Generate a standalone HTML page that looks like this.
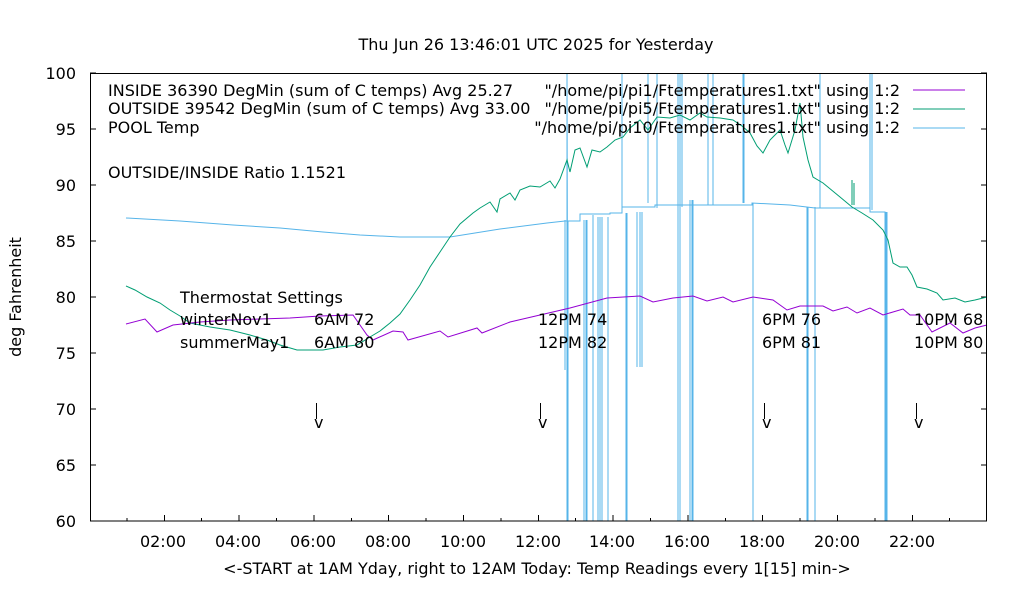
<!DOCTYPE html>
<html><head><meta charset="utf-8"><style>
html,body{margin:0;padding:0;background:#fff}
svg text{font-family:"DejaVu Sans","Liberation Sans",sans-serif;font-size:16px;fill:#000}
</style></head><body>
<svg width="1020" height="600" viewBox="0 0 1020 600" xmlns="http://www.w3.org/2000/svg">
<rect width="1020" height="600" fill="#fff"/>
<text x="536" y="50" text-anchor="middle">Thu Jun 26 13:46:01 UTC 2025 for Yesterday</text>
<g stroke="#000" stroke-width="1" shape-rendering="crispEdges">
<path d="M90 73h6M90 129h6M90 185h6M90 241h6M90 297h6M90 353h6M90 409h6M90 465h6M987 73h-6M987 129h-6M987 185h-6M987 241h-6M987 297h-6M987 353h-6M987 409h-6M987 465h-6"/>
<path d="M164.3 521v-6M239.1 521v-6M313.9 521v-6M388.7 521v-6M463.5 521v-6M538.3 521v-6M613.1 521v-6M687.9 521v-6M762.7 521v-6M837.5 521v-6M912.3 521v-6"/>
<path d="M126.9 521v-3M201.7 521v-3M276.5 521v-3M351.3 521v-3M426.1 521v-3M500.9 521v-3M575.7 521v-3M650.5 521v-3M725.3 521v-3M800.1 521v-3M874.9 521v-3M949.7 521v-3"/>
</g>
<g text-anchor="end">
<text x="76" y="79">100</text><text x="76" y="135">95</text><text x="76" y="191">90</text><text x="76" y="247">85</text><text x="76" y="303">80</text><text x="76" y="359">75</text><text x="76" y="415">70</text><text x="76" y="471">65</text><text x="76" y="527">60</text>
</g>
<g text-anchor="middle">
<text x="163" y="547">02:00</text><text x="238" y="547">04:00</text><text x="313" y="547">06:00</text><text x="388" y="547">08:00</text><text x="463" y="547">10:00</text><text x="538" y="547">12:00</text><text x="612" y="547">14:00</text><text x="687" y="547">16:00</text><text x="762" y="547">18:00</text><text x="837" y="547">20:00</text><text x="912" y="547">22:00</text>
</g>
<text x="537" y="574" text-anchor="middle">&lt;-START at 1AM Yday, right to 12AM Today:  Temp Readings every 1[15] min-&gt;</text>
<text transform="translate(21,297) rotate(-90)" text-anchor="middle">deg Fahrenheit</text>

<g stroke="#56b4e9" stroke-width="1" fill="none">
<polyline points="126,218 180,221 233,225 280,228 323,232 360,235 400,237 450,237 500,229 547,223 565,221 567,221 567,73 568,521 568,221 580,221 580,214 610,214 610,213 622,213 622,207 655,207 655,205 692,205 692,205 740,205 752,205 752,203 790,205 815,208 820,208 870,208 870,212 885,212 885,521"/>
<path d="M565 220V370M567 73V521M584 220V521M586 220V521M587 220V521M593 215V521M598 217V521M600 217V521M602 217V521M608 217V521M622 73V213M626 213V521M627 213V521M637 212V367M640 212V367M642 212V367M648 73V203M657 73V208M678 73V521M680 73V521M682 73V207M690 200V521M692 200V521M693 200V521M708 73V205M713 73V205M743 73V203M744 73V203M753 203V521M807 207V521M808 207V521M815 207V521M820 73V208M870 73V210M872 73V210M886 212V521M887 212V521" shape-rendering="crispEdges"/>
</g>
<polyline fill="none" stroke="#009e73" stroke-width="1" points="126,286 135,290 147,297 160,303 170,310 180,316 190,323 210,327 230,330 250,335 267,340 280,345 297,350 310,350 323,350 340,347 357,345 370,337 380,331 390,323 400,314 410,300 420,285 430,267 440,252 450,237 460,224 473,213 480,208 490,202 497,212 500,199 510,193 515,200 520,190 530,186 540,187 550,181 555,188 560,179 567,160 570,172 575,150 580,148 587,167 592,150 600,152 607,147 615,140 623,137 630,128 640,120 648,130 657,117 670,118 680,115 690,120 700,113 707,117 720,118 733,120 742,126 750,133 757,146 763,153 770,140 773,137 780,130 785,145 788,153 795,130 800,103 803,137 808,160 813,177 823,183 840,197 852,207 862,213 873,220 883,230 888,240 893,263 900,267 907,267 912,275 917,287 927,289 937,293 943,300 955,298 965,302 975,300 987,297"/>
<path d="M852 180V205M854 183V205" stroke="#009e73" fill="none"/>
<polyline fill="none" stroke="#9400d3" stroke-width="1" points="126,324 145,319 157,332 173,325 200,322 230,320 260,319 290,318 320,316 353,315 367,335 373,340 393,331 403,332 408,340 440,331 448,337 477,328 482,333 510,322 540,315 570,308 607,298 640,296 653,302 673,298 693,296 707,301 723,297 733,302 753,297 773,300 787,310 800,306 823,306 833,311 847,307 857,313 870,308 883,315 903,309 910,315 920,315 932,332 950,323 963,333 975,328 987,325"/>

<text x="108" y="96">INSIDE 36390 DegMin (sum of C temps) Avg 25.27</text>
<text x="108" y="114">OUTSIDE 39542 DegMin (sum of C temps) Avg 33.00</text>
<text x="108" y="133">POOL Temp</text>
<g text-anchor="end">
<text x="900" y="96">"/home/pi/pi1/Ftemperatures1.txt" using 1:2</text>
<text x="900" y="114">"/home/pi/pi5/Ftemperatures1.txt" using 1:2</text>
<text x="900" y="133">"/home/pi/pi10/Ftemperatures1.txt" using 1:2</text>
</g>
<path d="M913 90h52" stroke="#9400d3"/>
<path d="M913 109h52" stroke="#009e73"/>
<path d="M913 128h52" stroke="#56b4e9"/>
<text x="108" y="178">OUTSIDE/INSIDE Ratio 1.1521</text>

<text x="180" y="303">Thermostat Settings</text>
<text x="180" y="325">winterNov1</text><text x="314" y="325">6AM 72</text><text x="538" y="325">12PM 74</text><text x="762" y="325">6PM 76</text><text x="914" y="325">10PM 68</text>
<text x="180" y="348">summerMay1</text><text x="314" y="348">6AM 80</text><text x="538" y="348">12PM 82</text><text x="762" y="348">6PM 81</text><text x="914" y="348">10PM 80</text>
<g stroke="#000"><path d="M316.5 403v16M540.5 403v16M764.5 403v16M916.5 403v16"/></g>
<text x="314" y="428">v</text><text x="538" y="428">v</text><text x="762" y="428">v</text><text x="914" y="428">v</text>

<rect x="90.5" y="73.5" width="896" height="447.5" fill="none" stroke="#000" stroke-width="1"/>
</svg>
</body></html>
